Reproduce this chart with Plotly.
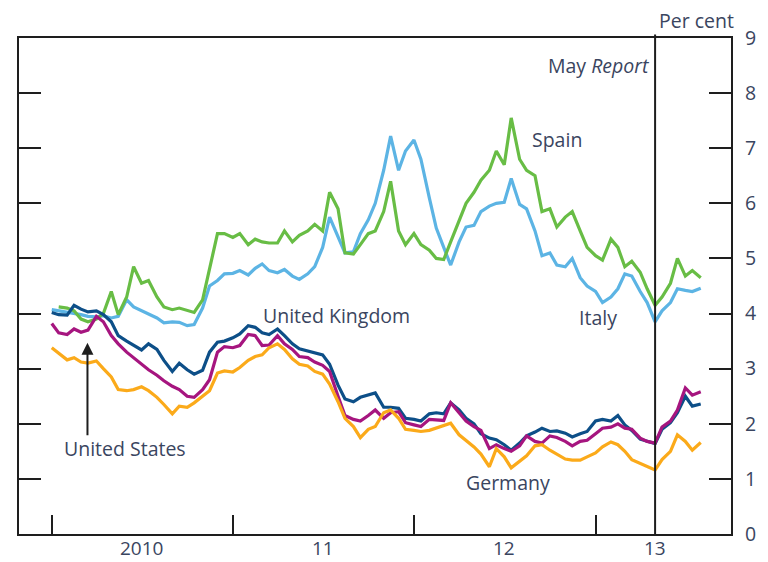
import pandas as pd
import plotly.graph_objects as go

# ---- data (semi-monthly readings, per cent) ----
dates = pd.date_range("2010-01-01", periods=87, freq="SMS")

us = [4.02,3.98,3.97,4.15,4.08,4.03,4.05,3.98,3.85,3.6, 3.5,3.42,3.34,3.45,3.35,3.15,2.95,3.1,2.98,2.9,
      2.97,3.3,3.48,3.5,3.56,3.63,3.78,3.75,3.65,3.62, 3.72,3.6,3.45,3.36,3.32,3.3,3.25,3.08,2.7,2.45,
      2.4,2.48,2.52,2.56,2.3,2.3,2.28,2.1,2.08,2.05, 2.18,2.2,2.18,2.38,2.25,2.1,2.0,1.82,1.74,1.71,
      1.62,1.52,1.65,1.78,1.85,1.92,1.86,1.87,1.83,1.76, 1.82,1.86,2.05,2.08,2.05,2.15,1.98,1.88,1.72,1.68,
      1.64,1.9,2.02,2.2,2.5,2.32,2.36]
uk = [3.82,3.65,3.62,3.72,3.66,3.7,3.95,3.85,3.6,3.45, 3.3,3.2,3.08,2.98,2.88,2.78,2.68,2.62,2.5,2.48,
      2.62,2.8,3.3,3.4,3.38,3.42,3.62,3.6,3.42,3.43, 3.6,3.45,3.35,3.22,3.2,3.12,3.06,2.95,2.5,2.15,
      2.08,2.05,2.15,2.25,2.1,2.2,2.22,2.02,1.98,1.95, 2.08,2.07,2.06,2.38,2.2,2.05,1.95,1.88,1.55,1.62,
      1.55,1.5,1.6,1.78,1.68,1.65,1.78,1.75,1.68,1.6, 1.68,1.7,1.82,1.92,1.94,2.0,1.92,1.9,1.74,1.68,
      1.65,1.94,2.05,2.25,2.65,2.52,2.58]
germany = [3.38,3.28,3.16,3.2,3.12,3.1,3.14,3.0,2.85,2.62, 2.6,2.62,2.67,2.6,2.48,2.35,2.18,2.32,2.3,2.38,
           2.5,2.6,2.92,2.96,2.94,3.02,3.15,3.22,3.25,3.38, 3.45,3.35,3.18,3.08,3.05,2.95,2.9,2.72,2.4,2.1,
           1.95,1.75,1.9,1.95,2.2,2.25,2.1,1.9,1.88,1.86, 1.88,1.92,1.96,2.01,1.8,1.7,1.58,1.45,1.22,1.55,
           1.4,1.2,1.32,1.42,1.6,1.62,1.52,1.45,1.36,1.34, 1.34,1.4,1.47,1.58,1.67,1.62,1.5,1.35,1.28,1.22,
           1.16,1.35,1.5,1.8,1.68,1.52,1.66]
italy = [4.07,4.05,4.02,4.0,3.98,3.95,3.94,3.96,3.92,3.95, 4.25,4.12,4.05,4.0,3.92,3.83,3.85,3.84,3.78,3.8,
         4.1,4.5,4.6,4.72,4.73,4.78,4.7,4.82,4.9,4.78, 4.74,4.8,4.68,4.62,4.72,4.85,5.2,5.75,5.4,5.1,
         5.12,5.45,5.7,6.0,6.6,7.22,6.6,6.95,7.15,6.8, 6.1,5.55,5.2,4.88,5.3,5.57,5.6,5.85,5.95,6.0,
         6.02,6.45,5.98,5.9,5.5,5.05,5.1,4.88,4.85,5.0, 4.65,4.5,4.4,4.2,4.3,4.45,4.72,4.68,4.4,4.2,
         3.85,4.05,4.2,4.45,4.42,4.4,4.46]
spain = [None,4.12,4.1,4.05,3.9,3.85,3.9,4.0,4.4,3.98, 4.3,4.85,4.55,4.6,4.3,4.12,4.07,4.1,4.05,4.02,
         4.25,4.8,5.45,5.45,5.38,5.45,5.25,5.35,5.3,5.28, 5.28,5.5,5.3,5.42,5.5,5.62,5.5,6.2,5.9,5.1,
         5.08,5.25,5.45,5.5,5.85,6.4,5.5,5.25,5.45,5.25, 5.15,5.0,4.98,5.3,5.7,6.0,6.2,6.42,6.6,6.95,
         6.7,7.55,6.8,6.6,6.5,5.85,5.9,5.57,5.75,5.85, 5.5,5.2,5.05,4.97,5.35,5.2,4.85,4.95,4.75,4.45,
         4.15,4.3,4.55,5.0,4.68,4.78,4.65]

year_tick_dates = ["2010-01-01", "2011-01-01", "2012-01-01", "2013-01-01"]
year_label_dates = ["2010-07-01", "2011-07-01", "2012-07-01", "2013-05-01"]
year_labels = ["2010", "11", "12", "13"]
y_ticks = list(range(0, 10))
may_report_date = "2013-05-01"

TEXT = "#3a4560"
AXIS = "#1e1e1e"
FONT = "Open Sans"
FS = 19.5

fig = go.Figure()
series = [
    ("Italy", italy, "#5cb4e4"),
    ("Spain", spain, "#68bd45"),
    ("United States", us, "#0d4f88"),
    ("United Kingdom", uk, "#a6157f"),
    ("Germany", germany, "#fbaa1a"),
]
for name, vals, col in series:
    fig.add_trace(go.Scatter(x=dates, y=vals, mode="lines", name=name,
                             line=dict(color=col, width=3.2), showlegend=False,
                             connectgaps=False))

fig.update_layout(
    width=768, height=562,
    margin=dict(l=19, r=34, t=38, b=28),
    paper_bgcolor="white", plot_bgcolor="white",
    font=dict(family=FONT, size=FS, color=TEXT),
    xaxis=dict(type="date", range=["2009-10-27", "2013-10-01"],
               tickvals=year_tick_dates, showticklabels=False,
               ticks="inside", ticklen=19, tickwidth=2, tickcolor=AXIS,
               showline=True, linewidth=2, linecolor=AXIS, mirror=True,
               showgrid=False, zeroline=False),
    yaxis=dict(range=[0, 9], side="right", tickvals=y_ticks,
               ticks="inside", ticklen=22, tickwidth=2, tickcolor=AXIS,
               showline=True, linewidth=2, linecolor=AXIS, mirror="ticks",
               showgrid=False, zeroline=False,
               tickfont=dict(family=FONT, size=FS, color=TEXT),
               ticklabelstandoff=8),
)

# vertical May Report line
fig.add_shape(type="line", xref="x", yref="paper", x0=may_report_date, x1=may_report_date,
              y0=0, y1=1.007, line=dict(color=AXIS, width=2))

# year labels
for d, t in zip(year_label_dates, year_labels):
    fig.add_annotation(x=d, xref="x", y=0, yref="paper", yshift=-14, text=t,
                       showarrow=False, xanchor="center", yanchor="middle", borderpad=0,
                       font=dict(family=FONT, size=19, color=TEXT))

ann = [
    ("Spain", "2012-08-21", 7.15),
    ("Italy", "2012-11-24", 3.92),
    ("United Kingdom", "2011-02-26", 3.97),
    ("United States", "2010-01-21", 1.56),
    ("Germany", "2012-04-11", 0.94),
]
for t, d, v in ann:
    fig.add_annotation(x=d, y=v, text=t, showarrow=False, xanchor="left", yanchor="middle",
                       font=dict(family=FONT, size=FS, color=TEXT))

# arrow for United States
fig.add_annotation(x="2010-03-14", y=3.47, text="", showarrow=True, ax=0, ay=94,
                   arrowhead=2, arrowsize=1.2, arrowwidth=2, arrowcolor=AXIS)

fig.add_annotation(x=may_report_date, y=8.5, text="May <i>Report</i>", showarrow=False,
                   xanchor="right", yanchor="middle", xshift=-3,
                   font=dict(family=FONT, size=FS, color=TEXT))
fig.add_annotation(x=0.952, xref="paper", y=1.036, yref="paper", text="Per cent",
                   showarrow=False, xanchor="center", yanchor="middle",
                   font=dict(family=FONT, size=FS, color=TEXT))

fig.write_html("out.html", config={"displayModeBar": False},
               post_script="document.body.style.margin='0';")
